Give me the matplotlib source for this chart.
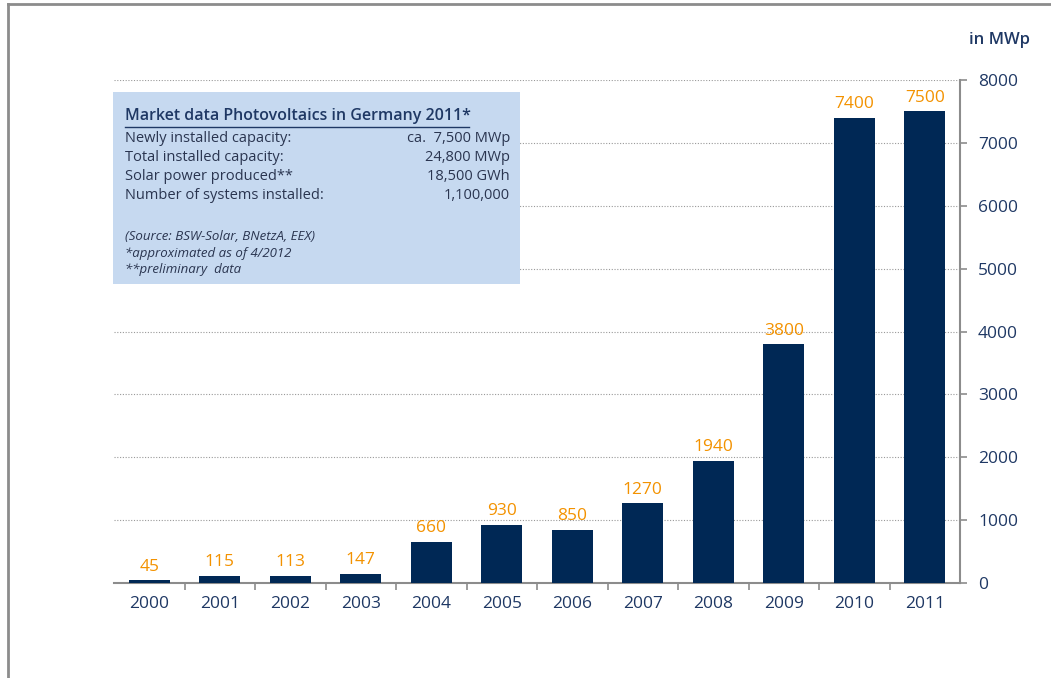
import matplotlib
matplotlib.use('Agg')
import matplotlib.pyplot as plt
from matplotlib.patches import Rectangle
import numpy as np

years = ['2000', '2001', '2002', '2003', '2004', '2005', '2006', '2007',
         '2008', '2009', '2010', '2011']
capacity = [45, 115, 113, 147, 660, 930, 850, 1270, 1940, 3800, 7400, 7500]
y_ticks = [0, 1000, 2000, 3000, 4000, 5000, 6000, 7000, 8000]

box_title = 'Market data Photovoltaics in Germany 2011*'
box_labels = ['Newly installed capacity:', 'Total installed capacity:',
              'Solar power produced**', 'Number of systems installed:']
box_values = ['ca.  7,500 MWp', '24,800 MWp', '18,500 GWh', '1,100,000']
box_notes = ['(Source: BSW-Solar, BNetzA, EEX)', '*approximated as of 4/2012',
             '**preliminary  data']

NAVY = '#002855'
ORANGE = '#f39200'
TXT = '#1f3864'
BOXTXT = '#2a3550'
GREY = '#8c8c8c'

plt.rcParams['font.family'] = ['Open Sans', 'DejaVu Sans']

W, H = 1051, 678
fig = plt.figure(figsize=(W / 100, H / 100), dpi=100)

# outer frame (left and top visible)
fig.add_artist(plt.Line2D([7.5 / W, 7.5 / W], [0, 1 - 3.5 / H], color=GREY, lw=2))
fig.add_artist(plt.Line2D([7.5 / W, 1], [1 - 3.5 / H, 1 - 3.5 / H], color=GREY, lw=2))

x0, x1 = 114, 960
y0, y1 = 583, 80
ax = fig.add_axes([x0 / W, 1 - y0 / H, (x1 - x0) / W, (y0 - y1) / H])

x = np.arange(len(years))
ax.bar(x, capacity, width=0.58, color=NAVY, zorder=3)
for xi, v in zip(x, capacity):
    ax.annotate(str(v), (xi, v), xytext=(0, 4), textcoords='offset points',
                ha='center', va='bottom', color=ORANGE, fontsize=12.5,
                fontweight=500, zorder=4)

ax.set_xlim(-0.5, len(years) - 0.5)
ax.set_ylim(0, 8000)
for yt in y_ticks[1:]:
    ax.axhline(yt, color='#999999', lw=0.8, ls=(0, (1, 1.5)), zorder=1)

for s in ['top', 'left']:
    ax.spines[s].set_visible(False)
ax.spines['right'].set_color(GREY)
ax.spines['bottom'].set_color(GREY)
ax.spines['right'].set_linewidth(1.5)
ax.spines['bottom'].set_linewidth(1.5)

ax.yaxis.tick_right()
ax.set_yticks(y_ticks)
ax.set_yticklabels([str(v) for v in y_ticks], fontweight=500)
ax.tick_params(axis='y', length=5, width=1.2, color=GREY, labelcolor=TXT,
               labelsize=12.5, pad=8)
ax.set_xticks(x)
ax.set_xticklabels(years, fontweight=500)
ax.tick_params(axis='x', length=0, labelcolor=TXT, labelsize=12.5, pad=9)
ax.set_xticks(np.arange(0.5, len(years) - 0.5, 1), minor=True)
ax.tick_params(axis='x', which='minor', length=5, width=1.2, color=GREY)

fig.text(1030 / W, 1 - 40 / H, 'in MWp', ha='right', va='center', color=TXT,
         fontsize=12, fontweight='semibold')

# info box
bx0, bx1, by0, by1 = 113, 520, 92, 284
fig.add_artist(Rectangle((bx0 / W, 1 - by1 / H), (bx1 - bx0) / W, (by1 - by0) / H,
                         transform=fig.transFigure, facecolor='#c6d9f0',
                         edgecolor='none', zorder=5))
fig.text(125 / W, 1 - 116 / H, box_title, ha='left', va='center', color=TXT,
         fontsize=11.5, fontweight='semibold', zorder=6)
fig.add_artist(plt.Line2D([125 / W, 469 / W], [1 - 127 / H, 1 - 127 / H],
                          color=TXT, lw=1, zorder=6))
for i, (lab, val) in enumerate(zip(box_labels, box_values)):
    yy = 1 - (138 + i * 19.3) / H
    fig.text(125 / W, yy, lab, ha='left', va='center', color=BOXTXT,
             fontsize=10.5, zorder=6)
    fig.text(510 / W, yy, val, ha='right', va='center', color=BOXTXT,
             fontsize=10.5, zorder=6)
for i, note in enumerate(box_notes):
    yy = 1 - (237 + i * 16.5) / H
    fig.text(125 / W, yy, note, ha='left', va='center', color=BOXTXT,
             fontsize=9.5, style='italic', fontweight=500, zorder=6)

fig.savefig('out.png', dpi=100)
